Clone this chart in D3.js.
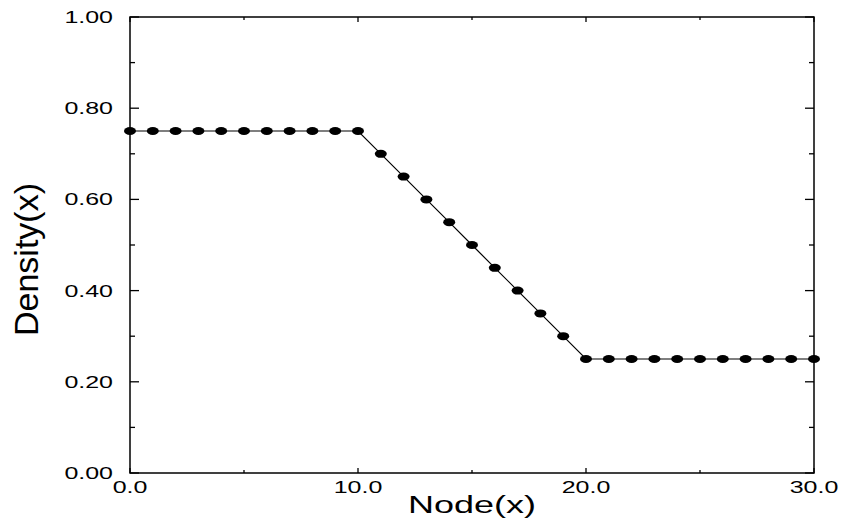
<!DOCTYPE html>
<html><head><meta charset="utf-8">
<script src="https://cdn.jsdelivr.net/npm/d3@7"></script>
<style>body{margin:0;background:#fff}svg{display:block}text{font-family:"Liberation Sans",Arial,sans-serif;fill:#000}</style>
</head><body><svg id="c" width="841" height="519"></svg>
<script>
const nodes = [0,1,2,3,4,5,6,7,8,9,10,11,12,13,14,15,16,17,18,19,20,21,22,23,24,25,26,27,28,29,30];
const density = [0.75,0.75,0.75,0.75,0.75,0.75,0.75,0.75,0.75,0.75,0.75,0.70,0.65,0.60,0.55,0.50,0.45,0.40,0.35,0.30,0.25,0.25,0.25,0.25,0.25,0.25,0.25,0.25,0.25,0.25,0.25];
const xTicks = [0,10,20,30];
const xMinor = [5,15,25];
const yTicks = [0,0.2,0.4,0.6,0.8,1.0];
const yMinor = [0.1,0.3,0.5,0.7,0.9];
const xTitle = "Node(x)", yTitle = "Density(x)";

const svg = d3.select("#c");
const L=130, R=814, T=17, B=473;
const x = d3.scaleLinear().domain([0,30]).range([L,R]);
const y = d3.scaleLinear().domain([0,1]).range([B,T]);
const SX = 1.47;

// frame
svg.append("rect").attr("x",L).attr("y",T).attr("width",R-L).attr("height",B-T)
  .attr("fill","none").attr("stroke","#000").attr("stroke-width",1.5);

// ticks
const tk = svg.append("g").attr("stroke","#000").attr("stroke-width",1.3);
function vt(v,len){ tk.append("line").attr("x1",x(v)).attr("x2",x(v)).attr("y1",B).attr("y2",B-len);
  tk.append("line").attr("x1",x(v)).attr("x2",x(v)).attr("y1",T).attr("y2",T+len); }
function ht(v,len){ tk.append("line").attr("y1",y(v)).attr("y2",y(v)).attr("x1",L).attr("x2",L+len);
  tk.append("line").attr("y1",y(v)).attr("y2",y(v)).attr("x1",R).attr("x2",R-len); }
xTicks.forEach(v=>vt(v,5)); xMinor.forEach(v=>vt(v,3));
yTicks.forEach(v=>ht(v,9)); yMinor.forEach(v=>ht(v,5));

// tick labels
const fmtX = d3.format(".1f"), fmtY = d3.format(".2f");
svg.append("g").selectAll("text").data(xTicks).join("text")
  .attr("transform",d=>`translate(${x(d)},${493}) scale(${SX},1)`)
  .attr("text-anchor","middle").attr("font-size",17).text(fmtX);
svg.append("g").selectAll("text").data(yTicks).join("text")
  .attr("transform",d=>`translate(${L-17},${y(d)+6}) scale(${SX},1)`)
  .attr("text-anchor","end").attr("font-size",17).text(fmtY);

// titles
svg.append("text").attr("transform",`translate(${x(15)},${513}) scale(1.5,1)`)
  .attr("text-anchor","middle").attr("font-size",24).text(xTitle);
svg.append("text").attr("transform",`translate(38,${259.5}) rotate(-90)`)
  .attr("text-anchor","middle").attr("font-size",34).text(yTitle);

// line and markers
const pts = nodes.map((n,i)=>[n,density[i]]);
svg.append("path").datum(pts).attr("fill","none").attr("stroke","#000").attr("stroke-width",1.2)
  .attr("d",d3.line().x(d=>x(d[0])).y(d=>y(d[1])));
svg.append("g").selectAll("ellipse").data(pts).join("ellipse")
  .attr("cx",d=>x(d[0])).attr("cy",d=>y(d[1])).attr("rx",6).attr("ry",4).attr("fill","#000");
</script></body></html>
